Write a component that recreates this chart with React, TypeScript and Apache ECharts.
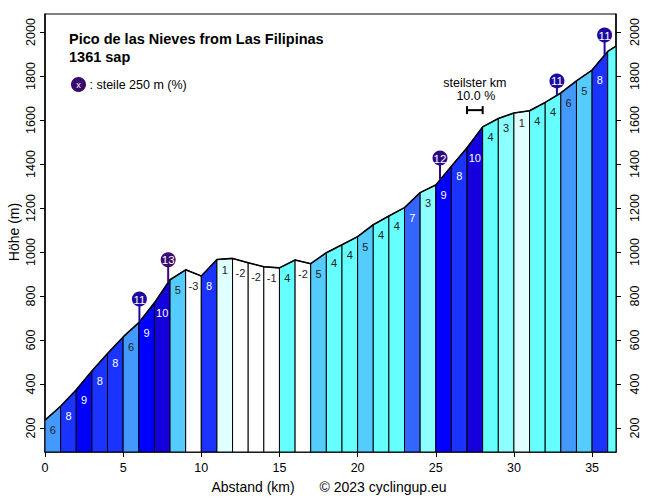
import React, { useEffect, useRef } from "react";
import * as echarts from "echarts";

// ---- data ----
const distances = [0, 1, 2, 3, 4, 5, 6, 7, 8, 9, 10, 11, 12, 13, 14, 15, 16, 17, 18, 19, 20, 21, 22, 23, 24, 25, 26, 27, 28, 29, 30, 31, 32, 33, 34, 35, 36, 36.53];
const elevations = [236, 299, 374, 459, 539, 614, 679, 769, 874, 919, 891, 966, 971, 951, 933, 928, 964, 947, 997, 1033, 1070, 1124, 1164, 1202, 1270, 1305, 1390, 1474, 1569, 1607, 1632, 1642, 1680, 1723, 1778, 1827, 1912, 1936];
const gradients = [6, 8, 9, 8, 8, 6, 9, 10, 5, -3, 8, 1, -2, -2, -1, 4, -2, 5, 4, 4, 5, 4, 4, 7, 3, 9, 8, 10, 4, 3, 1, 4, 4, 6, 5, 8, 4];

const steepKm = [6.04, 7.88, 25.27, 32.75, 35.8];
const steepValues = [11, 13, 12, 11, 11];
const steepBase = [683, 861, 1328, 1712, 1895];
const steepTop = [786, 965, 1427, 1778, 1986];

const steepestKmStart = [27];
const steepestKmEnd = [28];
const steepestKmValue = ["10.0 %"];
const steepestKmElev = [1645];

const yTicks = [200, 400, 600, 800, 1000, 1200, 1400, 1600, 1800, 2000];
const xTicks = [0, 5, 10, 15, 20, 25, 30, 35];

const title1 = "Pico de las Nieves from Las Filipinas";
const title2 = "1361 sap";

// ---- styling ----
const Y_MIN = 91;
const Y_MAX = 2082;
const X_MAX = 36.53;
const FONT = "'Liberation Sans', Arial, sans-serif";

function gradColor(g: number): string {
  if (g <= 0) return "#ffffff";
  if (g <= 1) return "#e0ffff";
  if (g <= 2) return "#b8ffff";
  if (g <= 3) return "#8cffff";
  if (g <= 4) return "#66ffff";
  if (g <= 5) return "#55ccff";
  if (g <= 6) return "#4499ff";
  if (g <= 7) return "#3366ff";
  if (g <= 8) return "#1a33ff";
  if (g <= 9) return "#0000ff";
  return "#1400dd";
}
function steepColor(v: number): string {
  if (v <= 11) return "#1e0aa0";
  if (v <= 12) return "#2c0a84";
  return "#3a0a6c";
}

export default function App() {
  const ref = useRef<HTMLDivElement>(null);
  useEffect(() => {
    const chart = echarts.init(ref.current!, null, { renderer: "svg" });

    const segData = gradients.map((g, i) => [distances[i], distances[i + 1], elevations[i], elevations[i + 1], g]);
    const profile = distances.map((d, i) => [d, elevations[i]]);
    const markerData = steepKm.map((k, i) => [k, steepBase[i], steepTop[i], steepValues[i]]);
    const bracketData = steepestKmStart.map((s, i) => [s, steepestKmEnd[i], steepestKmElev[i], i]);

    const axisCommon = {
      type: "value" as const,
      min: Y_MIN,
      max: Y_MAX,
      axisLine: { show: true, lineStyle: { color: "#000", width: 1.5 } },
      axisTick: { show: true, length: 5, customValues: yTicks, lineStyle: { color: "#000", width: 1 } },
      splitLine: { show: false },
    };
    const labelCommon = {
      customValues: yTicks,
      rotate: 90,
      color: "#000",
      fontSize: 12.5,
      fontFamily: FONT,
      formatter: (v: number) => String(v),
    };

    const option: any = {
      animation: false,
      backgroundColor: "#ffffff",
      grid: {
        left: 45,
        right: 40,
        top: 14,
        bottom: 46,
        show: true,
        borderColor: "#000",
        borderWidth: 1,
        backgroundColor: "transparent",
        outerBoundsMode: "none",
        containLabel: false,
      },
      xAxis: {
        type: "value",
        min: 0,
        max: X_MAX,
        axisLine: { show: true, onZero: false, lineStyle: { color: "#000", width: 1.5 } },
        axisTick: { show: true, length: 5, customValues: xTicks, lineStyle: { color: "#000", width: 1 } },
        axisLabel: { customValues: xTicks, margin: 9, color: "#000", fontSize: 12.5, fontFamily: FONT },
        splitLine: { show: false },
      },
      yAxis: [
        { ...axisCommon, position: "left", axisLabel: { ...labelCommon, margin: 8 } },
        { ...axisCommon, position: "right", axisLabel: { ...labelCommon, margin: 12 } },
      ],
      graphic: [
        {
          type: "text",
          x: 69,
          y: 39,
          style: { text: title1, font: `bold 14.5px ${FONT}`, fill: "#000", textVerticalAlign: "middle" },
        },
        {
          type: "text",
          x: 69,
          y: 57,
          style: { text: title2, font: `bold 14.5px ${FONT}`, fill: "#000", textVerticalAlign: "middle" },
        },
        {
          type: "circle",
          shape: { cx: 78.5, cy: 84.5, r: 7.5 },
          style: { fill: "#3a0a6c" },
        },
        {
          type: "text",
          x: 78.5,
          y: 84.5,
          style: { text: "x", font: `9px ${FONT}`, fill: "#fff", textAlign: "center", textVerticalAlign: "middle" },
        },
        {
          type: "text",
          x: 89.5,
          y: 85,
          style: { text: ": steile 250 m (%)", font: `12.5px ${FONT}`, fill: "#000", textVerticalAlign: "middle" },
        },
        {
          type: "text",
          x: 14,
          y: 232,
          rotation: Math.PI / 2,
          style: { text: "Höhe (m)", font: `14px ${FONT}`, fill: "#000", textAlign: "center", textVerticalAlign: "middle" },
        },
        {
          type: "text",
          x: 253,
          y: 487,
          style: { text: "Abstand (km)", font: `14px ${FONT}`, fill: "#000", textAlign: "center", textVerticalAlign: "middle" },
        },
        {
          type: "text",
          x: 383,
          y: 487,
          style: { text: "© 2023 cyclingup.eu", font: `14px ${FONT}`, fill: "#000", textAlign: "center", textVerticalAlign: "middle" },
        },
      ],
      series: [
        {
          type: "custom",
          xAxisIndex: 0,
          yAxisIndex: 0,
          data: segData,
          clip: true,
          z: 1,
          renderItem: (params: any, api: any) => {
            const x0 = api.value(0);
            const x1 = api.value(1);
            const e0 = api.value(2);
            const e1 = api.value(3);
            const g = api.value(4);
            const p0 = api.coord([x0, e0]);
            const p1 = api.coord([x1, e1]);
            const b0 = api.coord([x0, Y_MIN]);
            const b1 = api.coord([x1, Y_MIN]);
            const children: any[] = [
              {
                type: "polygon",
                shape: { points: [b0, p0, p1, b1] },
                style: { fill: gradColor(g), stroke: "#000", lineWidth: 1 },
              },
            ];
            if (x1 - x0 > 0.8) {
              children.push({
                type: "text",
                x: (p0[0] + p1[0]) / 2,
                y: Math.max(p0[1], p1[1]) + 10,
                style: {
                  text: String(g),
                  font: `11px ${FONT}`,
                  fill: g >= 7 ? "#ffffff" : "#222222",
                  textAlign: "center",
                  textVerticalAlign: "middle",
                },
              });
            }
            return { type: "group", children };
          },
        },
        {
          type: "line",
          xAxisIndex: 0,
          yAxisIndex: 0,
          data: profile,
          symbol: "none",
          lineStyle: { color: "#000", width: 1.6 },
          z: 3,
        },
        {
          type: "custom",
          xAxisIndex: 0,
          yAxisIndex: 0,
          data: markerData,
          z: 4,
          renderItem: (params: any, api: any) => {
            const k = api.value(0);
            const base = api.coord([k, api.value(1)]);
            const top = api.coord([k, api.value(2)]);
            const v = api.value(3);
            const c = steepColor(v);
            return {
              type: "group",
              children: [
                { type: "line", shape: { x1: base[0], y1: base[1], x2: top[0], y2: top[1] }, style: { stroke: c, lineWidth: 2 } },
                { type: "circle", shape: { cx: top[0], cy: top[1], r: 7.5 }, style: { fill: c } },
                {
                  type: "text",
                  x: top[0],
                  y: top[1] + 0.5,
                  style: { text: String(v), font: `11.5px ${FONT}`, fill: "#fff", textAlign: "center", textVerticalAlign: "middle" },
                },
              ],
            };
          },
        },
        {
          type: "custom",
          xAxisIndex: 0,
          yAxisIndex: 0,
          data: bracketData,
          z: 4,
          renderItem: (params: any, api: any) => {
            const a = api.coord([api.value(0), api.value(2)]);
            const b = api.coord([api.value(1), api.value(2)]);
            const idx = api.value(3);
            const cx = (a[0] + b[0]) / 2;
            return {
              type: "group",
              children: [
                { type: "line", shape: { x1: a[0], y1: a[1], x2: b[0], y2: b[1] }, style: { stroke: "#000", lineWidth: 2 } },
                { type: "line", shape: { x1: a[0], y1: a[1] - 4, x2: a[0], y2: a[1] + 4 }, style: { stroke: "#000", lineWidth: 2 } },
                { type: "line", shape: { x1: b[0], y1: b[1] - 4, x2: b[0], y2: b[1] + 4 }, style: { stroke: "#000", lineWidth: 2 } },
                {
                  type: "text",
                  x: cx + 1,
                  y: a[1] - 14,
                  style: { text: steepestKmValue[idx], font: `12.5px ${FONT}`, fill: "#000", textAlign: "center", textVerticalAlign: "middle" },
                },
                {
                  type: "text",
                  x: cx,
                  y: a[1] - 27,
                  style: { text: "steilster km", font: `12.5px ${FONT}`, fill: "#000", textAlign: "center", textVerticalAlign: "middle" },
                },
              ],
            };
          },
        },
      ],
    };

    chart.setOption(option);
    return () => chart.dispose();
  }, []);

  return <div ref={ref} style={{ position: "absolute", left: 0, top: 0, width: 656, height: 498 }} />;
}
